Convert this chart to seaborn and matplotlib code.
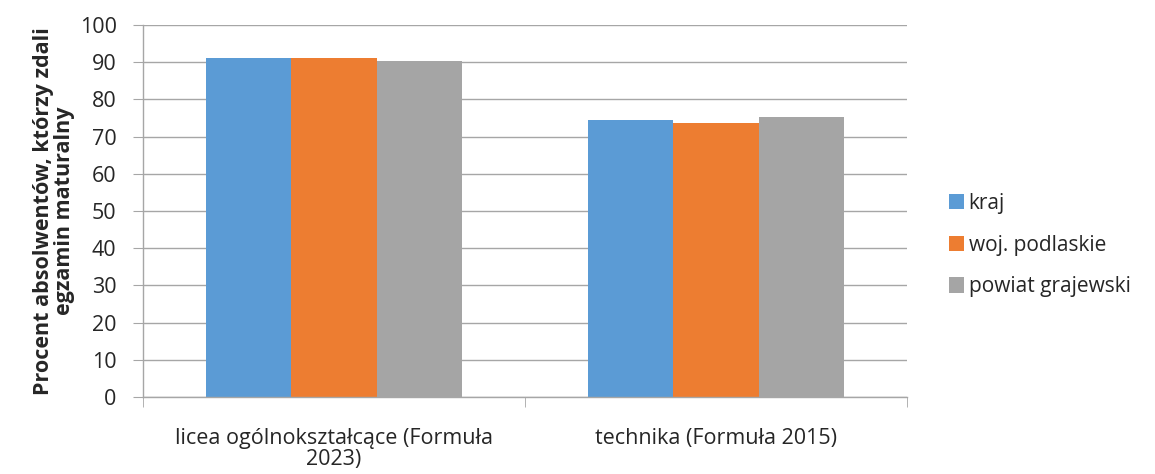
import matplotlib
matplotlib.use("Agg")
import matplotlib.pyplot as plt
import seaborn as sns
import pandas as pd
from matplotlib.patches import Patch

categories = ["licea ogólnokształcące (Formuła\n2023)", "technika (Formuła 2015)"]
series = ["kraj", "woj. podlaskie", "powiat grajewski"]
kraj = [91.1, 74.4]
woj = [91.1, 73.6]
powiat = [90.2, 75.2]
colors = ["#5B9BD5", "#ED7D31", "#A5A5A5"]

rows = []
for s, vals in zip(series, [kraj, woj, powiat]):
    for c, v in zip(categories, vals):
        rows.append({"cat": c, "series": s, "val": v})
df = pd.DataFrame(rows)

sns.set_style("white")
plt.rcParams['font.family'] = ['Open Sans', 'DejaVu Sans']

fig = plt.figure(figsize=(11.55, 4.74), dpi=100)
ax = fig.add_axes([143/1155, 1 - 397/474, (907-143)/1155, (397-25)/474])
sns.barplot(data=df, x="cat", y="val", hue="series", palette=colors, ax=ax,
            width=0.67, saturation=1, edgecolor="none", legend=False)

ax.set_ylim(0, 100)
ax.set_xlim(-0.5, 1.5)
ax.set_yticks(range(0, 101, 10))
ax.yaxis.grid(True, color="#A6A6A6", linewidth=1)
ax.set_axisbelow(True)
for sp in ["top", "right"]:
    ax.spines[sp].set_visible(False)
for sp in ["left", "bottom"]:
    ax.spines[sp].set_color("#A6A6A6")
    ax.spines[sp].set_linewidth(1)
ax.tick_params(axis="y", labelsize=15.5, length=7, color="#A6A6A6", direction="out", left=True, pad=12)
ax.tick_params(axis="x", labelsize=15.5, length=0, pad=22)
ax.set_xticks([-0.5, 0.5, 1.5], minor=True)
ax.tick_params(axis="x", which="minor", length=7, color="#A6A6A6", bottom=True)
for lbl in ax.get_xticklabels():
    lbl.set_linespacing(1.05)
ax.set_xlabel("")
ax.set_ylabel("Procent absolwentów, którzy zdali\negzamin maturalny", fontsize=15.5,
              fontweight="bold", labelpad=3, linespacing=1.05)

handles = [Patch(facecolor=c, edgecolor="none") for c in colors]
fig.legend(handles, series, loc="center left", bbox_to_anchor=(930/1155, 1 - 245/474),
           frameon=False, fontsize=15, handlelength=0.75, handleheight=0.75,
           handletextpad=0.2, labelspacing=1.0)

fig.savefig("out.png", dpi=100)
